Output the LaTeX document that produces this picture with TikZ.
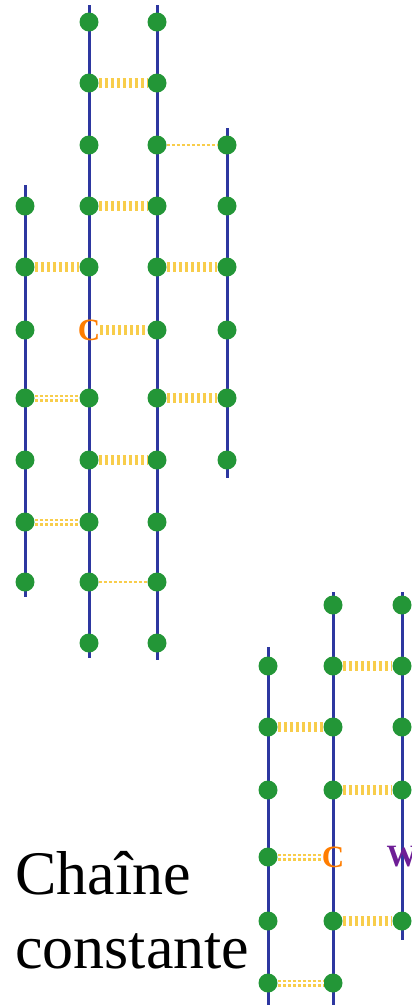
\documentclass[tikz,border=0pt]{standalone}
\usepackage{fontspec}
\setmainfont{Liberation Serif}
\usepackage{tikz}
\definecolor{brinbleu}{RGB}{45,55,160}
\definecolor{vertbase}{RGB}{35,150,55}
\definecolor{jaunepont}{RGB}{248,205,75}
\definecolor{orangeC}{RGB}{255,125,0}
\definecolor{violetW}{RGB}{110,30,150}
\tikzset{
  strand/.style      = {draw=brinbleu, line width=3pt},
  nucleo/.style      = {shape=circle, fill=vertbase, inner sep=0pt, minimum size=19pt},
  hbond/.style       = {draw=jaunepont, line width=10pt, dash pattern=on 3pt off 3pt},
  hbondthin/.style   = {draw=jaunepont, line width=2.5pt, dash pattern=on 3pt off 2pt},
  hbonddouble/.style = {draw=jaunepont, line width=2.5pt, double=white, double distance=2pt,
                        dash pattern=on 3pt off 2pt},
  lettre/.style      = {font=\fontsize{31}{31}\selectfont\bfseries, inner sep=0pt},
  titre/.style       = {font=\fontsize{62}{74}\selectfont, align=left, anchor=north west, inner sep=0pt}
}
\newcommand{\forte}{edge [hbond]}
\newcommand{\faible}{edge [hbondthin]}
\newcommand{\paire}{edge [hbonddouble]}
\def\hautY{{22,83,145,206,267,330,398,460,522,582,643}}
\def\basY{{605,666,727,790,857,921,983}}

\begin{document}
\begin{tikzpicture}[x=1pt, y=-1pt]
  \useasboundingbox (0,0) rectangle (412,1005);
  % brins du haut et du bas
  \foreach \c/\x/\debut/\fin in {1/25/185/597, 2/89/5/658, 3/157/5/660, 4/227/128/478} {
    \coordinate (a\c-haut) at (\x,\debut);
    \coordinate (a\c-bas)  at (\x,\fin);
    \draw [strand] (a\c-haut) -- (a\c-bas);
  }
  \foreach \c/\x/\debut/\fin in {1/268/647/1012, 2/333/592/1012, 3/402/592/940} {
    \coordinate (b\c-haut) at (\x,\debut);
    \coordinate (b\c-bas)  at (\x,\fin);
    \draw [strand] (b\c-haut) -- (b\c-bas);
  }
  % lettres
  \node [lettre, text=orangeC] (c-haut) at (89,330) {C};
  \node [lettre, text=orangeC] (c-bas)  at (333,857) {C};
  \node [lettre, text=violetW] (w-bas)  at (402,857) {W};
  % bases
  \foreach \c/\x/\rangs in {1/25/{4,5,6,7,8,9,10}, 2/89/{1,2,3,4,5,7,8,9,10,11},
                            3/157/{1,2,3,4,5,6,7,8,9,10,11}, 4/227/{3,4,5,6,7,8}} {
    \foreach \r in \rangs {
      \pgfmathsetmacro\y{\hautY[\r-1]}
      \node [nucleo] (a\c-\r) at (\x,\y) {};
    }
  }
  \foreach \c/\x/\rangs in {1/268/{2,3,4,5,6,7}, 2/333/{1,2,3,4,6,7}, 3/402/{1,2,3,4,6}} {
    \foreach \r in \rangs {
      \pgfmathsetmacro\y{\basY[\r-1]}
      \node [nucleo] (b\c-\r) at (\x,\y) {};
    }
  }
  % ponts hydrogene
  \draw
    (a2-2) \forte (a3-2)
    (a3-3) \faible (a4-3)
    (a2-4) \forte (a3-4)
    (a1-5) \forte (a2-5)
    (a3-5) \forte (a4-5)
    (c-haut) \forte (a3-6)
    (a1-7) \paire (a2-7)
    (a3-7) \forte (a4-7)
    (a2-8) \forte (a3-8)
    (a1-9) \paire (a2-9)
    (a2-10) \faible (a3-10);
  \draw
    (b2-2) \forte (b3-2)
    (b1-3) \forte (b2-3)
    (b2-4) \forte (b3-4)
    (b1-5) \paire (c-bas)
    (b2-6) \forte (b3-6)
    (b1-7) \paire (b2-7);
  \node [titre] (chaine) at (15,851) {Chaîne\\constante};
\end{tikzpicture}
\end{document}
